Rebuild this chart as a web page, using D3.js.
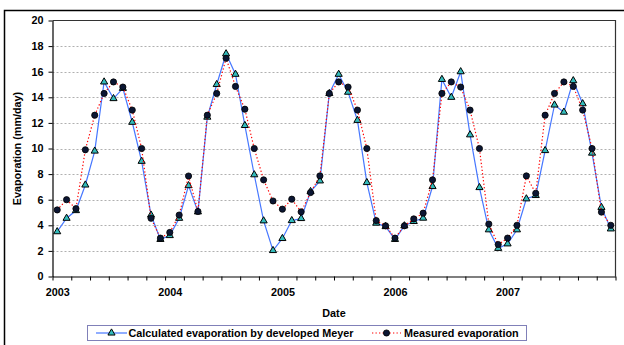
<!DOCTYPE html>
<html>
<head>
<meta charset="utf-8">
<script src="https://cdn.jsdelivr.net/npm/d3@7"></script>
<style>
  html, body { margin: 0; padding: 0; background: #fff; }
  svg { display: block; }
  text { font-family: "Liberation Sans", Arial, Helvetica, sans-serif; font-weight: bold; fill: #000; }
</style>
</head>
<body>
<svg id="chart" width="624" height="345"></svg>
<script>
// Monthly categories, January 2003 through December 2007
const months = d3.timeMonth.range(new Date(2003, 0, 1), new Date(2008, 0, 1));
const yearLabels = ["2003", "2004", "2005", "2006", "2007"];
const yTicks = [0, 2, 4, 6, 8, 10, 12, 14, 16, 18, 20];

// Evaporation (mm/day), calculated with the developed Meyer formula
const calculated = [
  3.5, 4.55, 5.15, 7.15, 9.8, 15.2, 13.9, 14.7, 12.05, 9.0, 4.8, 2.9,
  3.2, 4.55, 7.1, 5.05, 12.45, 15.0, 17.4, 15.8, 11.8, 7.95, 4.35, 2.03,
  2.97, 4.37, 4.53, 6.64, 7.47, 14.3, 15.8, 14.4, 12.2, 7.34, 4.17, 3.9,
  2.9, 3.96, 4.3, 4.56, 7.03, 15.4, 14.0, 16.0, 11.07, 6.95, 3.65, 2.2,
  2.55, 3.65, 6.07, 6.33, 9.84, 13.4, 12.84, 15.3, 13.5, 9.64, 5.4, 3.72
];

// Evaporation (mm/day), measured
const measured = [
  5.2, 6.0, 5.3, 9.9, 12.6, 14.3, 15.2, 14.8, 13.0, 10.0, 4.55, 3.0,
  3.44, 4.8, 7.85, 5.08, 12.6, 14.3, 17.05, 14.85, 13.07, 10.0, 7.55, 5.9,
  5.26, 6.04, 5.05, 6.56, 7.86, 14.3, 15.2, 14.8, 13.0, 10.0, 4.37, 3.96,
  3.0, 3.96, 4.5, 4.95, 7.55, 14.3, 15.2, 14.8, 13.0, 10.0, 4.1, 2.5,
  3.0, 4.0, 7.86, 6.5, 12.6, 14.3, 15.2, 14.85, 13.0, 10.0, 5.03, 4.0
];

const svg = d3.select("#chart");
const plotL = 52.5, plotR = 615.5, plotT = 20.5, plotB = 276.5;

// Outer chart frame (runs past the right and bottom edges)
svg.append("rect")
  .attr("x", 4.5).attr("y", 10.5)
  .attr("width", 640).attr("height", 360)
  .attr("fill", "#fff").attr("stroke", "#000").attr("stroke-width", 1.5);

const n = months.length;
// Category slots: each month occupies one slot, points sit between tick marks
const xIdx = d3.scaleLinear().domain([0, n]).range([plotL, plotR]);
const xPos = i => xIdx(i + 0.5);
const y = d3.scaleLinear().domain([0, 20]).range([plotB, plotT]);

// Horizontal gridlines
svg.append("g")
  .selectAll("line")
  .data(yTicks.filter(v => v > 0 && v < 20))
  .join("line")
  .attr("x1", plotL).attr("x2", plotR)
  .attr("y1", d => Math.round(y(d)) + 0.5).attr("y2", d => Math.round(y(d)) + 0.5)
  .attr("stroke", "#b0b0b0").attr("stroke-width", 1)
  .attr("stroke-dasharray", "2,2");

// Plot area border (top and right)
svg.append("path")
  .attr("d", `M${plotL},${plotT}H${plotR}V${plotB}`)
  .attr("fill", "none").attr("stroke", "#333").attr("stroke-width", 1.2);

// Y axis
const yAxis = svg.append("g")
  .attr("transform", `translate(${plotL},0)`)
  .call(d3.axisLeft(y).tickValues(yTicks).tickSize(4).tickSizeOuter(0).tickPadding(5));
yAxis.select(".domain").attr("stroke", "#000").attr("stroke-width", 1.2);
yAxis.selectAll(".tick line").attr("stroke", "#000");
yAxis.selectAll("text").style("font-size", "10.8px").style("font-family", null);

// X axis: tick marks every two months
const xAxis = svg.append("g")
  .attr("transform", `translate(0,${plotB})`)
  .call(d3.axisBottom(xIdx).tickValues(d3.range(0, n + 1, 2)).tickSize(4).tickSizeOuter(0).tickFormat(""));
xAxis.select(".domain").attr("stroke", "#000").attr("stroke-width", 1.2);
xAxis.selectAll(".tick line").attr("stroke", "#000");

// Year labels under the first month of each year
const yearIdx = yearLabels.map(yr => months.findIndex(m => m.getFullYear() === +yr));
const xYears = svg.append("g")
  .attr("transform", `translate(0,${plotB})`)
  .call(d3.axisBottom(xIdx).tickValues(yearIdx.map(i => i + 0.5)).tickSize(0).tickPadding(12)
    .tickFormat((d, k) => yearLabels[k]));
xYears.select(".domain").remove();
xYears.selectAll("text").style("font-size", "10.8px").style("font-family", null);

// Axis titles
svg.append("text")
  .attr("x", (plotL + plotR) / 2).attr("y", 316.5)
  .attr("text-anchor", "middle").style("font-size", "10.8px")
  .text("Date");
svg.append("text")
  .attr("transform", `translate(21,${(plotT + plotB) / 2}) rotate(-90)`)
  .attr("text-anchor", "middle").style("font-size", "10.8px")
  .text("Evaporation (mm/day)");

const tri = d3.symbol().type(d3.symbolTriangle).size(22);

// Calculated series: solid blue line with teal triangles
svg.append("path")
  .datum(calculated)
  .attr("fill", "none").attr("stroke", "#4677ff").attr("stroke-width", 1.2)
  .attr("d", d3.line().x((d, i) => xPos(i)).y(d => y(d)));
svg.append("g")
  .selectAll("path")
  .data(calculated)
  .join("path")
  .attr("d", tri)
  .attr("transform", (d, i) => `translate(${xPos(i)},${y(d)})`)
  .attr("fill", "#33bcbc").attr("stroke", "#000").attr("stroke-width", 1);

// Measured series: red dotted line with dark circles
svg.append("path")
  .datum(measured)
  .attr("fill", "none").attr("stroke", "#ff0000").attr("stroke-width", 1.2)
  .attr("stroke-dasharray", "1.3,2.2")
  .attr("d", d3.line().x((d, i) => xPos(i)).y(d => y(d)));
svg.append("g")
  .selectAll("circle")
  .data(measured)
  .join("circle")
  .attr("cx", (d, i) => xPos(i)).attr("cy", d => y(d))
  .attr("r", 3.1)
  .attr("fill", "#0b1633").attr("stroke", "#000").attr("stroke-width", 0.8);

// Legend
const lg = svg.append("g");
lg.append("rect")
  .attr("x", 87.5).attr("y", 325.5).attr("width", 439).attr("height", 15)
  .attr("fill", "#fff").attr("stroke", "#8080b8").attr("stroke-width", 1);
const ly = 333;
lg.append("line").attr("x1", 96).attr("x2", 127).attr("y1", ly).attr("y2", ly)
  .attr("stroke", "#4677ff").attr("stroke-width", 1.2);
lg.append("path").attr("d", tri).attr("transform", `translate(111.5,${ly})`)
  .attr("fill", "#33bcbc").attr("stroke", "#000").attr("stroke-width", 1);
lg.append("text").attr("x", 128.5).attr("y", ly + 4).style("font-size", "10.8px")
  .text("Calculated evaporation by developed Meyer");
lg.append("line").attr("x1", 372).attr("x2", 401).attr("y1", ly).attr("y2", ly)
  .attr("stroke", "#ff0000").attr("stroke-width", 1.2).attr("stroke-dasharray", "1.3,2.2");
lg.append("circle").attr("cx", 386.5).attr("cy", ly).attr("r", 3.1)
  .attr("fill", "#0b1633").attr("stroke", "#000").attr("stroke-width", 0.8);
lg.append("text").attr("x", 404).attr("y", ly + 4).style("font-size", "10.8px")
  .text("Measured evaporation");
</script>
</body>
</html>
